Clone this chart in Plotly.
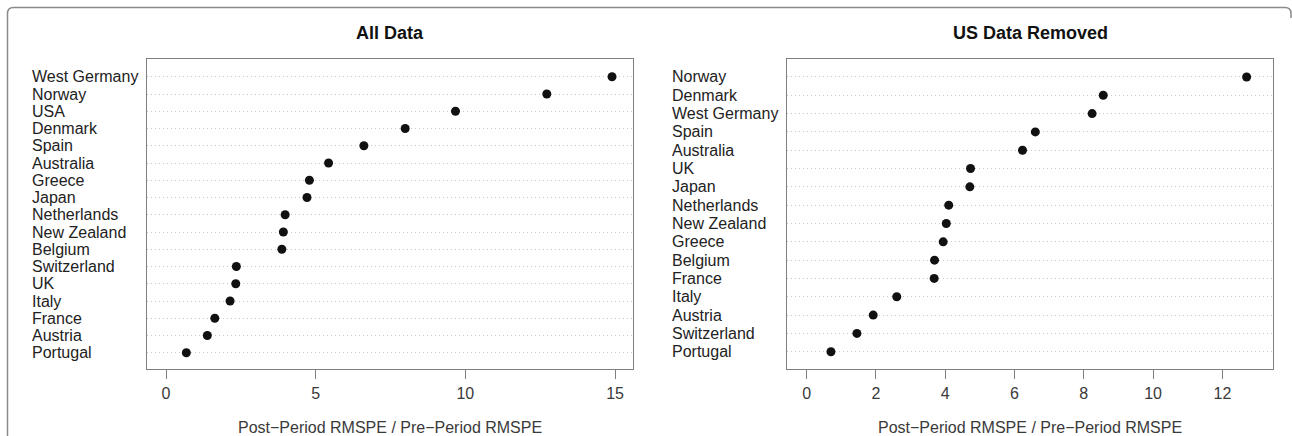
import plotly.graph_objects as go

# ---- data (top-to-bottom order as displayed) ----
left_countries = ["West Germany", "Norway", "USA", "Denmark", "Spain", "Australia",
                  "Greece", "Japan", "Netherlands", "New Zealand", "Belgium",
                  "Switzerland", "UK", "Italy", "France", "Austria", "Portugal"]
left_values = [14.9, 12.72, 9.67, 7.99, 6.61, 5.43, 4.79, 4.71, 3.98, 3.92, 3.87,
               2.35, 2.33, 2.14, 1.63, 1.38, 0.68]

right_countries = ["Norway", "Denmark", "West Germany", "Spain", "Australia", "UK",
                   "Japan", "Netherlands", "New Zealand", "Greece", "Belgium",
                   "France", "Italy", "Austria", "Switzerland", "Portugal"]
right_values = [12.7, 8.56, 8.24, 6.60, 6.23, 4.73, 4.71, 4.10, 4.03, 3.94, 3.69,
                3.68, 2.60, 1.92, 1.45, 0.70]

left_ticks = [0, 5, 10, 15]
right_ticks = [0, 2, 4, 6, 8, 10, 12]

titles = ["All Data", "US Data Removed"]
xlabel = "Post\u2212Period RMSPE / Pre\u2212Period RMSPE"

W, H = 1292, 436
FONT = "Liberation Sans, Arial, sans-serif"
FRAME = "#7f7f7f"


def px(x):
    return x / W


def py(y):
    return 1 - y / H


fig = go.Figure()

fig.add_trace(go.Scatter(x=left_values, y=left_countries, mode="markers",
                         marker=dict(color="#111111", size=9),
                         xaxis="x", yaxis="y", showlegend=False, hoverinfo="x+y"))
fig.add_trace(go.Scatter(x=right_values, y=right_countries, mode="markers",
                         marker=dict(color="#111111", size=9),
                         xaxis="x2", yaxis="y2", showlegend=False, hoverinfo="x+y"))

frame_top, frame_bot = 59, 369.3
ydom = [py(frame_bot), py(frame_top)]

xcommon = dict(showline=True, mirror=True, linecolor=FRAME, linewidth=1.3,
               showgrid=False, zeroline=False, ticks="outside", ticklen=9,
               tickcolor=FRAME, tickwidth=1.3,
               tickfont=dict(family=FONT, size=16, color="#3a3a3a"))
ycommon = dict(type="category", showline=True, mirror=True, linecolor=FRAME,
               linewidth=1.3, showgrid=True, gridcolor="#c8c8c8", griddash="1px,3px",
               gridwidth=1, showticklabels=False, ticks="", zeroline=False)

fig.update_layout(
    width=W, height=H,
    margin=dict(l=0, r=0, t=0, b=0),
    paper_bgcolor="white", plot_bgcolor="white",
    xaxis=dict(domain=[px(146.7), px(632.7)], range=[-0.645, 15.59],
               tickvals=left_ticks, anchor="y", **xcommon),
    yaxis=dict(domain=ydom, anchor="x",
               categoryarray=left_countries[::-1], categoryorder="array",
               range=[-0.96, len(left_countries) - 1 + 1.03], **ycommon),
    xaxis2=dict(domain=[px(787.3), px(1273.3)], range=[-0.56, 13.47],
                tickvals=right_ticks, anchor="y2", **xcommon),
    yaxis2=dict(domain=ydom, anchor="x2",
                categoryarray=right_countries[::-1], categoryorder="array",
                range=[-0.96, len(right_countries) - 1 + 0.98], **ycommon),
)

annotations = []
# country labels, left aligned
for c in left_countries:
    annotations.append(dict(x=px(30), xref="paper", y=c, yref="y", text=c,
                            xanchor="left", yanchor="middle", showarrow=False,
                            font=dict(family=FONT, size=16, color="#222222")))
for c in right_countries:
    annotations.append(dict(x=px(670), xref="paper", y=c, yref="y2", text=c,
                            xanchor="left", yanchor="middle", showarrow=False,
                            font=dict(family=FONT, size=16, color="#222222")))
# titles
for t, cx in zip(titles, [(146.7 + 632.7) / 2, (787.3 + 1273.3) / 2]):
    annotations.append(dict(x=px(cx), xref="paper", y=py(33), yref="paper",
                            text="<b>%s</b>" % t, showarrow=False,
                            xanchor="center", yanchor="middle",
                            font=dict(family=FONT, size=18, color="#111111")))
    annotations.append(dict(x=px(cx), xref="paper", y=py(427), yref="paper",
                            text=xlabel, showarrow=False,
                            xanchor="center", yanchor="middle",
                            font=dict(family=FONT, size=16, color="#3a3a3a")))
fig.update_layout(annotations=annotations)

# outer rounded border (left and top edges, top-right corner)
r = 6
path = ("M {x0},{yb} L {x0},{y1} Q {x0},{y0} {x1},{y0} L {x2},{y0} "
        "Q {x3},{y0} {x3},{y1} L {x3},{y2}").format(
    x0=px(7.5), x1=px(7.5 + r), x2=px(1291 - r), x3=px(1291),
    y0=py(7.5), y1=py(7.5 + r), y2=py(18), yb=py(440))
fig.add_shape(type="path", path=path, xref="paper", yref="paper",
              line=dict(color="#8a8a8a", width=1.5))

fig.write_html("out.html",
               config={"displayModeBar": False},
               post_script="document.body.style.margin='0';"
                           "document.body.style.overflow='hidden';")
